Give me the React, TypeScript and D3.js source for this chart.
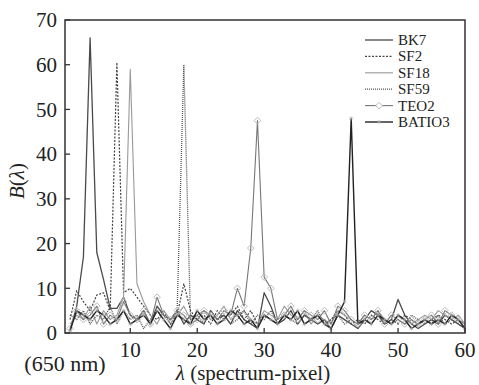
import * as d3 from 'd3'

const pixels = d3.range(1, 61)

const bk7 = [0.5, 6, 17, 66, 18, 12, 5.5, 5.5, 8, 4, 3, 5, 2, 6, 4, 3, 5, 2, 4, 3, 2, 5, 3, 4, 2, 5, 3, 2, 1, 9, 6, 2, 3, 5, 2, 4, 3, 2, 3, 1, 4, 3, 2, 1, 3, 5, 4, 2, 3, 7.5, 4, 2, 1, 2, 3, 2, 4, 3, 2, 1]
const sf2 = [3, 9.5, 7, 5, 8.5, 9, 5, 60.5, 9, 10, 8, 6, 4, 3, 5, 2, 4, 11, 5, 3, 4, 2, 5, 3, 4, 6, 3, 5, 2, 4, 3, 2, 4, 3, 5, 2, 3, 4, 2, 3, 5, 4, 2, 3, 2, 4, 3, 2, 3, 2, 4, 3, 2, 3, 2, 4, 3, 2, 3, 2]
const sf18 = [2, 4, 3, 6, 2, 5, 3, 4, 8, 59, 11, 7, 4, 2, 5, 3, 4, 6, 3, 4, 5, 3, 4, 6, 3, 4, 5, 3, 2, 5, 4, 3, 6, 4, 3, 5, 2, 4, 3, 2, 5, 4, 3, 2, 4, 3, 5, 3, 2, 4, 3, 2, 3, 4, 3, 5, 4, 3, 4, 2]
const sf59 = [4, 3, 5, 2, 4, 3, 6, 2, 5, 3, 4, 1, 3, 5, 4, 2, 5, 60, 3, 4, 2, 5, 3, 4, 2, 3, 5, 2, 4, 3, 5, 2, 4, 3, 2, 4, 3, 5, 2, 3, 4, 2, 3, 1, 3, 2, 4, 3, 2, 3, 2, 4, 3, 2, 3, 4, 2, 3, 2, 1]
const teo2 = [1, 5, 3, 4, 6, 2, 4, 3, 7, 4, 3, 5, 2, 8, 4, 3, 5, 4, 2, 3, 5, 4, 3, 5, 4, 10, 6, 19, 47.5, 12.5, 10, 3, 4, 6, 3, 5, 4, 3, 5, 2, 6, 5, 3, 2, 4, 3, 5, 2, 4, 3, 2, 3, 2, 3, 4, 2, 5, 4, 3, 2]
const batio3 = [0.5, 5, 4, 3, 5, 4, 2, 3, 5, 2, 3, 4, 2, 5, 3, 1, 4, 3, 2, 5, 3, 4, 2, 3, 5, 4, 2, 3, 1, 4, 3, 2, 4, 3, 5, 2, 3, 4, 2, 1, 4, 7, 48, 2, 3, 2, 4, 3, 2, 4, 3, 1, 2, 3, 2, 3, 2, 4, 3, 1]

const seriesNames = ['BK7', 'SF2', 'SF18', 'SF59', 'TEO2', 'BATIO3']
const seriesValues = [bk7, sf2, sf18, sf59, teo2, batio3]
const xTicks = [10, 20, 30, 40, 50, 60]
const yTicks = [0, 10, 20, 30, 40, 50, 60, 70]

const styles: Record<string, { stroke: string; dash?: string; width: number; marker?: string }> = {
  BK7: { stroke: '#4a4a4a', width: 1.3 },
  SF2: { stroke: '#444', dash: '2,1.5', width: 1.2 },
  SF18: { stroke: '#999', width: 1.1 },
  SF59: { stroke: '#555', dash: '1,1', width: 1.3 },
  TEO2: { stroke: '#777', width: 1.1, marker: 'diamond' },
  BATIO3: { stroke: '#222', width: 1.4, marker: 'star' },
}

const font = '"Liberation Serif", "DejaVu Serif", serif'

export default function App() {
  const W = 479, H = 385
  const left = 65, right = 465, top = 20, bottom = 333
  const x = d3.scaleLinear().domain([0.25, 60]).range([left, right])
  const y = d3.scaleLinear().domain([0, 70]).range([bottom, top])
  const line = d3.line<number>().x((_, i) => x(pixels[i])).y(d => y(d))
  const diamond = d3.symbol().type(d3.symbolDiamond2).size(28)()
  const star = d3.symbol().type(d3.symbolAsterisk).size(14)()

  return (
    <svg width={W} height={H} style={{ position: 'fixed', left: 0, top: 0, background: '#fff' }} fontFamily={font}>
      <defs>
        <clipPath id="plot"><rect x={left} y={top} width={right - left} height={bottom - top} /></clipPath>
      </defs>
      <g clipPath="url(#plot)">
        {seriesNames.map((name, k) => {
          const s = styles[name]
          return (
            <g key={name}>
              <path d={line(seriesValues[k]) || ''} fill="none" stroke={s.stroke} strokeWidth={s.width} strokeDasharray={s.dash} strokeLinejoin="round" />
              {s.marker === 'diamond' && seriesValues[k].map((v, i) => (
                <path key={i} d={diamond || ''} transform={`translate(${x(pixels[i])},${y(v)})`} fill="none" stroke="#bbb" strokeWidth={1} />
              ))}
              {s.marker === 'star' && seriesValues[k].map((v, i) => (
                <path key={i} d={star || ''} transform={`translate(${x(pixels[i])},${y(v)})`} fill="#aaa" stroke="#aaa" strokeWidth={0.6} />
              ))}
            </g>
          )
        })}
      </g>
      <rect x={left} y={top} width={right - left} height={bottom - top} fill="none" stroke="#333" strokeWidth={1.5} />
      {yTicks.map(t => (
        <g key={t}>
          <line x1={left} x2={left + 5} y1={y(t)} y2={y(t)} stroke="#333" strokeWidth={1.3} />
          <text x={left - 8} y={y(t)} dy="0.35em" textAnchor="end" fontSize={21} fill="#222">{t}</text>
        </g>
      ))}
      {xTicks.map(t => (
        <g key={t}>
          <line x1={x(t)} x2={x(t)} y1={bottom} y2={bottom - 5} stroke="#333" strokeWidth={1.3} />
          <text x={x(t)} y={357} textAnchor="middle" fontSize={21} fill="#222">{t}</text>
        </g>
      ))}
      <text x={left} y={371} textAnchor="middle" fontSize={22} fill="#222">(650 nm)</text>
      <text x={253} y={380} textAnchor="middle" fontSize={21} fill="#222">
        <tspan fontStyle="italic">λ</tspan> (spectrum-pixel)
      </text>
      <text transform="translate(24,181) rotate(-90)" textAnchor="middle" fontSize={21} fill="#222">
        <tspan fontStyle="italic">B</tspan>(<tspan fontStyle="italic">λ</tspan>)
      </text>
      <g>
        {seriesNames.map((name, k) => {
          const s = styles[name]
          const ly = 40 + k * 16.4
          return (
            <g key={name}>
              <line x1={365} x2={393} y1={ly} y2={ly} stroke={s.stroke} strokeWidth={s.width} strokeDasharray={s.dash} />
              {s.marker === 'diamond' && <path d={diamond || ''} transform={`translate(379,${ly})`} fill="#fff" stroke="#bbb" strokeWidth={1} />}
              {s.marker === 'star' && <path d={star || ''} transform={`translate(379,${ly})`} fill="#aaa" stroke="#aaa" strokeWidth={0.6} />}
              <text x={398} y={ly} dy="0.33em" fontSize={15} fill="#222">{name}</text>
            </g>
          )
        })}
      </g>
    </svg>
  )
}
